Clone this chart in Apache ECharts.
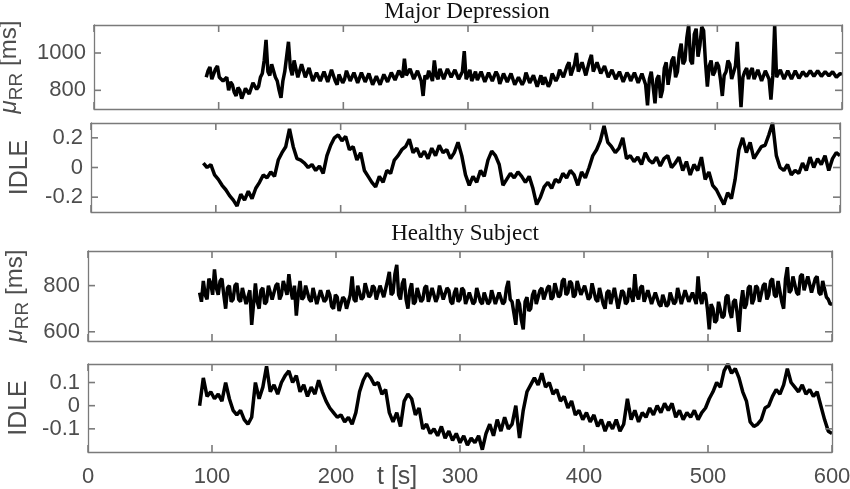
<!DOCTYPE html>
<html>
<head>
<meta charset="utf-8">
<script src="https://cdn.jsdelivr.net/npm/echarts@6/dist/echarts.min.js"></script>
<style>
  html, body { margin: 0; padding: 0; background: #fff; }
  #chart { width: 850px; height: 489px; }
</style>
</head>
<body>
<div id="chart"></div>
<script>
// every trace starts at tStart; RR traces are sampled every rrStep s, IDLE every idleStep s
var tStart = 90;
var rrStep = 1.5;
var idleStep = 3;
var xTicks = [0, 100, 200, 300, 400, 500, 600];

// Major Depression
var mdRR = [
  870, 905, 925, 860, 850, 915, 930, 870, 880, 850,
  840, 870, 800, 845, 830, 790, 770, 815, 800, 755,
  760, 810, 820, 780, 790, 840, 850, 805, 820, 870,
  890, 960, 1070, 900, 880, 940, 930, 870, 850, 800,
  760, 850, 900, 980, 1060, 920, 880, 960, 950, 870,
  880, 940, 930, 870, 860, 920, 910, 850, 850, 895,
  900, 850, 840, 900, 890, 845, 850, 910, 900, 850,
  830, 885, 880, 840, 860, 905, 910, 850, 840, 895,
  890, 840, 830, 895, 900, 845, 850, 890, 880, 830,
  820, 875, 870, 830, 840, 885, 880, 845, 850, 895,
  900, 855, 860, 905, 910, 870, 970, 880, 870, 915,
  920, 860, 850, 905, 900, 850, 770, 880, 860, 905,
  900, 850, 960, 880, 860, 915, 910, 860, 870, 915,
  920, 870, 880, 910, 900, 860, 870, 900, 1010, 860,
  880, 910, 850, 845, 900, 855, 860, 900, 890, 845,
  850, 895, 900, 850, 860, 900, 880, 835, 840, 890,
  900, 845, 850, 890, 880, 830, 820, 870, 870, 830,
  850, 895, 890, 840, 830, 880, 870, 820, 850, 880,
  830, 870, 870, 820, 840, 890, 900, 850, 870, 910,
  920, 870, 880, 930, 950, 880, 890, 940, 1000, 900,
  900, 950, 950, 880, 890, 960, 990, 900, 900, 950,
  940, 890, 890, 930, 920, 870, 870, 910, 900, 860,
  860, 900, 890, 845, 850, 895, 880, 850, 860, 895,
  890, 840, 840, 890, 880, 830, 720, 860, 900, 820,
  730, 860, 880, 760, 800, 920, 950, 830, 830, 960,
  980, 870, 900, 1000, 1050, 940, 960, 1080, 1150, 960,
  940, 1100, 1130, 980, 1040, 1140, 1120, 950, 820, 930,
  960, 880, 900, 950, 930, 860, 770, 880, 900, 960,
  940, 860, 870, 930, 1060, 880, 710, 870, 900, 920,
  860, 900, 920, 860, 870, 910, 910, 850, 860, 905,
  900, 860, 750, 880, 1150, 870, 860, 910, 900, 860,
  870, 905, 910, 860, 870, 905, 900, 865, 880, 900,
  910, 875, 880, 905, 905, 875, 880, 905, 900, 875,
  885, 900, 905, 878, 880, 900, 890, 870, 875, 890,
  885
];
var mdIdle = [
  0.03, 0.0, 0.02, -0.05, -0.08, -0.12, -0.15, -0.19, -0.22, -0.26,
  -0.18, -0.22, -0.16, -0.21, -0.14, -0.1, -0.05, -0.07, -0.03, -0.06,
  0.05, 0.1, 0.14, 0.26, 0.14, 0.06, 0.05, 0.03, 0.0, 0.02,
  -0.02, 0.01, -0.04, 0.08, 0.15, 0.2, 0.22, 0.18, 0.21, 0.12,
  0.14, 0.05, 0.1, -0.02, -0.06, -0.1, -0.13, -0.06, -0.1, -0.02,
  -0.04, 0.05, 0.08, 0.12, 0.14, 0.19, 0.1, 0.13, 0.07, 0.11,
  0.06, 0.13, 0.08, 0.15, 0.1, 0.12, 0.06, 0.1, 0.17, 0.08,
  -0.05, -0.12, -0.06, -0.1, -0.02, -0.06, 0.05, 0.11, 0.08, 0.02,
  -0.12, -0.08, -0.04, -0.07, -0.03, -0.06, -0.1, -0.06, -0.14, -0.25,
  -0.2, -0.13, -0.1, -0.14, -0.08, -0.1, -0.04, -0.07, -0.02, -0.05,
  -0.12, -0.03, -0.07, 0.0, 0.08, 0.12, 0.18, 0.28, 0.17, 0.14,
  0.1, 0.13, 0.2, 0.06, 0.08, 0.04, 0.07, 0.02, 0.1, 0.05,
  0.03, 0.07, 0.01, 0.06, 0.08, 0.0, 0.03, 0.07, -0.02, 0.04,
  -0.05, 0.02, -0.02, 0.07, -0.08, -0.03, -0.12, -0.15, -0.2, -0.25,
  -0.17, -0.21, -0.08, 0.12, 0.2, 0.1, 0.17, 0.06, 0.1, 0.14,
  0.15, 0.22, 0.3, 0.08, 0.0, -0.02, 0.02, -0.05, -0.02, -0.04,
  0.03, -0.02, 0.07, 0.0, 0.06, 0.02, 0.08, -0.02, 0.06, 0.1,
  0.08
];
var mdRRTicks = [800, 1000];
var mdIdleTicks = [-0.2, 0, 0.2];

// Healthy Subject
var hsRR = [
  770, 730, 820, 760, 740, 830, 810, 760, 870, 790,
  760, 820, 830, 760, 700, 790, 800, 730, 740, 800,
  810, 740, 730, 790, 790, 720, 720, 780, 630, 720,
  810, 730, 700, 780, 790, 720, 730, 800, 800, 740,
  740, 800, 810, 740, 760, 820, 820, 760, 850, 780,
  740, 800, 670, 760, 820, 740, 750, 800, 800, 740,
  730, 790, 790, 720, 720, 780, 780, 730, 740, 780,
  760, 710, 700, 760, 750, 690, 690, 750, 740, 700,
  700, 760, 840, 740, 730, 800, 800, 740, 750, 810,
  810, 750, 760, 800, 790, 740, 740, 800, 800, 750,
  750, 820, 860, 760, 770, 850, 890, 760, 740, 810,
  830, 740, 700, 780, 810, 720, 730, 790, 790, 730,
  740, 790, 800, 730, 730, 790, 790, 730, 750, 800,
  800, 740, 740, 790, 780, 730, 720, 770, 790, 730,
  740, 790, 780, 720, 720, 770, 770, 720, 730, 790,
  790, 730, 720, 770, 770, 720, 730, 780, 780, 720,
  720, 770, 770, 720, 730, 790, 820, 740, 730, 680,
  630, 740, 720, 650, 610, 730, 750, 690, 700, 760,
  780, 720, 720, 780, 790, 740, 740, 790, 800, 740,
  750, 810, 810, 750, 760, 820, 830, 760, 770, 820,
  810, 750, 760, 820, 820, 760, 760, 800, 800, 740,
  750, 810, 810, 740, 730, 790, 790, 720, 700, 770,
  780, 720, 720, 790, 790, 700, 700, 780, 770, 720,
  730, 790, 790, 730, 850, 760, 740, 790, 800, 730,
  730, 780, 780, 720, 720, 770, 770, 720, 710, 760,
  760, 710, 720, 770, 770, 720, 730, 790, 790, 720,
  720, 780, 780, 730, 730, 770, 770, 720, 840, 750,
  720, 770, 760, 700, 610, 720, 700, 640, 650, 730,
  730, 660, 670, 750, 760, 690, 660, 730, 740, 680,
  600, 720, 780, 700, 720, 790, 800, 720, 740, 800,
  790, 730, 730, 800, 810, 740, 760, 820, 830, 760,
  750, 820, 820, 730, 700, 830, 880, 770, 780, 840,
  840, 770, 760, 840, 850, 780, 780, 840, 840, 770,
  770, 830, 840, 770, 760, 820, 820, 750, 740, 720,
  720
];
var hsIdle = [
  0.0, 0.12, 0.04, 0.06, 0.03, 0.05, 0.02, 0.1, 0.03, -0.02,
  -0.04, -0.02, -0.06, -0.08, -0.05, 0.1, 0.03, 0.08, 0.17, 0.06,
  0.09, 0.05, 0.1, 0.13, 0.15, 0.1, 0.13, 0.06, 0.09, 0.04,
  0.08, 0.05, 0.11, 0.06, 0.02, -0.01, -0.03, -0.05, -0.04, -0.07,
  -0.05, -0.08, -0.03, 0.06, 0.11, 0.14, 0.12, 0.09, 0.1, 0.05,
  0.07, -0.03, -0.07, -0.03, -0.09, 0.02, 0.05, 0.03, -0.04, -0.01,
  -0.1, -0.08, -0.12, -0.1, -0.13, -0.09, -0.14, -0.11, -0.15, -0.12,
  -0.16, -0.13, -0.17, -0.14, -0.16, -0.13, -0.19, -0.12, -0.08, -0.13,
  -0.06, -0.11, -0.05, -0.1, -0.08, 0.0, -0.14, -0.02, 0.06, 0.09,
  0.12, 0.09, 0.14, 0.08, 0.1, 0.05, 0.07, 0.02, 0.04, -0.01,
  0.02, -0.04, -0.02, -0.06, -0.03, -0.07, -0.04, -0.09, -0.06, -0.11,
  -0.07, -0.1, -0.06, -0.11, -0.08, 0.03, -0.06, -0.02, -0.07, -0.03,
  -0.05, -0.01, -0.04, 0.0, -0.03, 0.01, -0.02, 0.01, -0.05, -0.02,
  -0.06, -0.03, -0.05, -0.02, -0.06, -0.03, -0.01, 0.03, 0.06, 0.1,
  0.08, 0.15, 0.18, 0.14, 0.16, 0.12, 0.06, 0.02, -0.07, -0.09,
  -0.08, -0.06, -0.01, 0.0, 0.04, 0.07, 0.05, 0.09, 0.16, 0.1,
  0.08, 0.06, 0.09, 0.05, 0.07, 0.04, 0.06, 0.0, -0.06, -0.11,
  -0.12
];
var hsRRTicks = [600, 800];
var hsIdleTicks = [-0.1, 0, 0.1];

var gray = '#7a7a7a';
var labelColor = '#4d4d4d';
var rrName = '{mu|μ}{sub|RR} {a|[ms]}';
var rrRich = {
  mu: { fontSize: 24, fontStyle: 'italic', lineHeight: 34, verticalAlign: 'middle' },
  sub: { fontSize: 19, lineHeight: 34, verticalAlign: 'bottom' },
  a: { fontSize: 24, lineHeight: 34, verticalAlign: 'middle' }
};

var panels = [
  { data: mdRR, step: rrStep, ticks: mdRRTicks, min: 700, max: 1150, name: rrName, gap: 66,
    grid: { left: 94, right: 8, top: 25, height: 84 } },
  { data: mdIdle, step: idleStep, ticks: mdIdleTicks, min: -0.3, max: 0.3, name: 'IDLE', gap: 58,
    grid: { left: 91, right: 10, top: 123, height: 89 } },
  { data: hsRR, step: rrStep, ticks: hsRRTicks, min: 560, max: 950, name: rrName, gap: 56,
    grid: { left: 88, right: 18, top: 251, height: 90 } },
  { data: hsIdle, step: idleStep, ticks: hsIdleTicks, min: -0.2, max: 0.18, name: 'IDLE', gap: 56,
    grid: { left: 88, right: 18, top: 364, height: 88 } }
];

var frameLine = { show: true, onZero: false, lineStyle: { color: gray, width: 1.3 } };
var tickLen = 7;

// inward ticks on all four sides of a panel, placed through the panel's own axes
function tickRenderer(p) {
  return function (params, api) {
    var x0 = api.coord([0, p.min]), x1 = api.coord([600, p.max]);
    var left = x0[0], bottom = x0[1], right = x1[0], top = x1[1];
    var style = { stroke: gray, lineWidth: 1.6 };
    var kids = [];
    xTicks.forEach(function (t) {
      var x = api.coord([t, p.min])[0];
      kids.push({ type: 'line', shape: { x1: x, y1: bottom, x2: x, y2: bottom - tickLen }, style: style });
      kids.push({ type: 'line', shape: { x1: x, y1: top, x2: x, y2: top + tickLen }, style: style });
    });
    p.ticks.forEach(function (v) {
      var y = api.coord([0, v])[1];
      kids.push({ type: 'line', shape: { x1: left, y1: y, x2: left + tickLen, y2: y }, style: style });
      kids.push({ type: 'line', shape: { x1: right, y1: y, x2: right - tickLen, y2: y }, style: style });
    });
    return { type: 'group', children: kids };
  };
}

var grids = [], xAxes = [], yAxes = [], series = [];
panels.forEach(function (p, i) {
  var last = i === panels.length - 1;
  grids.push(Object.assign({ show: false, containLabel: false, outerBoundsMode: 'none' }, p.grid));
  ['bottom', 'top'].forEach(function (pos) {
    xAxes.push({
      type: 'value', gridIndex: i, position: pos, min: 0, max: 600, interval: 100, z: 5,
      axisLine: frameLine,
      axisTick: { show: false },
      axisLabel: { show: last && pos === 'bottom', color: labelColor, fontSize: 22, margin: 14,
        fontFamily: 'Liberation Sans' },
      splitLine: { show: false }
    });
  });
  ['left', 'right'].forEach(function (pos) {
    yAxes.push({
      type: 'value', gridIndex: i, position: pos, min: p.min, max: p.max, z: 5,
      name: pos === 'left' ? p.name : '',
      nameLocation: 'middle', nameGap: p.gap, nameRotate: 90,
      nameTextStyle: { color: labelColor, fontSize: 25, fontFamily: 'Liberation Sans', rich: rrRich },
      axisLine: frameLine,
      axisTick: { show: false },
      axisLabel: { show: pos === 'left', customValues: p.ticks, color: labelColor, fontSize: 22,
        margin: 8, fontFamily: 'Liberation Sans',
        formatter: function (v) { return String(v); } },
      splitLine: { show: false }
    });
  });
  series.push({
    type: 'line', xAxisIndex: i * 2, yAxisIndex: i * 2, showSymbol: false, clip: true,
    lineStyle: { color: '#000', width: 3.5 },
    data: p.data.map(function (v, k) { return [tStart + k * p.step, v]; })
  });
  series.push({
    type: 'custom', xAxisIndex: i * 2, yAxisIndex: i * 2, silent: true, clip: false, z: 6,
    data: [[300, (p.min + p.max) / 2]], renderItem: tickRenderer(p)
  });
});

var chart = echarts.init(document.getElementById('chart'), null, { renderer: 'canvas' });
chart.setOption({
  animation: false,
  backgroundColor: '#fff',
  title: [
    { text: 'Major Depression', left: 462, top: -5, textAlign: 'center',
      textStyle: { fontFamily: 'Liberation Serif', fontWeight: 'normal', fontSize: 23, color: '#111' } },
    { text: 'Healthy Subject', left: 460, top: 217, textAlign: 'center',
      textStyle: { fontFamily: 'Liberation Serif', fontWeight: 'normal', fontSize: 23, color: '#111' } }
  ],
  graphic: [
    { type: 'text', left: 377, top: 465,
      style: { text: 't [s]', fill: labelColor, font: '25px "Liberation Sans"' } }
  ],
  grid: grids,
  xAxis: xAxes,
  yAxis: yAxes,
  series: series
});
</script>
</body>
</html>
